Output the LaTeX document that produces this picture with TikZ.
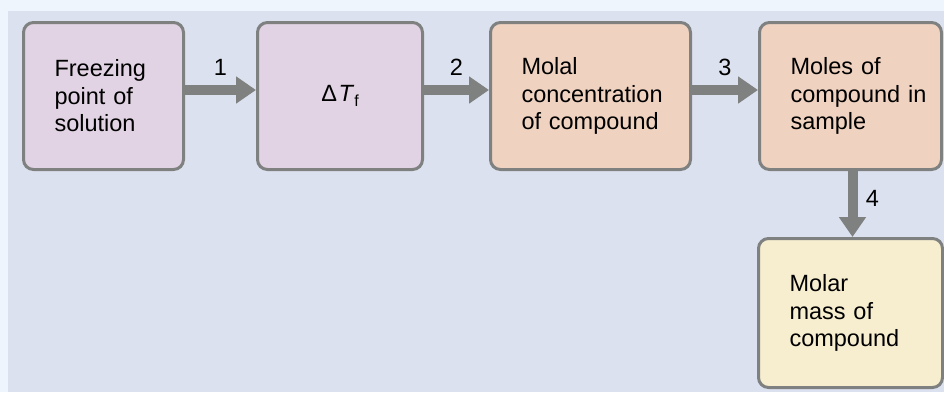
\documentclass[tikz,border=0pt]{standalone}
\usepackage{fontspec}
\setmainfont{Liberation Sans}
\usetikzlibrary{arrows.meta,positioning}
\definecolor{pagebg}{HTML}{EEF5FD}
\definecolor{panelbg}{HTML}{DBE1EE}
\definecolor{boxpurple}{HTML}{E1D3E3}
\definecolor{boxorange}{HTML}{F0D2C0}
\definecolor{boxyellow}{HTML}{F7EDCF}
\definecolor{linegray}{HTML}{7F8181}

\begin{document}
\begin{tikzpicture}[x=1pt, y=-1pt, >={Triangle[length=20pt,width=26pt]},
    stepbox/.style={draw=linegray, line width=3pt, rounded corners=10pt,
        minimum height=147pt, inner xsep=31pt, align=left,
        font=\fontsize{23.5}{27.5}\selectfont},
    flow/.style={->, draw=linegray, line width=10pt},
    num/.style={font=\fontsize{23.5}{27}\selectfont}]
    \fill[pagebg] (0,0) rectangle (944,392);
    \fill[panelbg] (8,11) rectangle (944,392);
    \useasboundingbox (0,0) rectangle (944,392);

    \node[stepbox, fill=boxpurple, text width=98pt] (freeze) at (103.5,96)
        {Freezing\\point of\\solution};
    \node[stepbox, fill=boxpurple, minimum width=165pt, align=center, right=71pt of freeze] (deltaT)
        {Δ\kern1.5pt\textit{T}\raisebox{-0.35ex}{\fontsize{16}{16}\selectfont f}};
    \node[stepbox, fill=boxorange, text width=138pt, right=65pt of deltaT] (molal)
        {Molal\\concentration\\of compound};
    \node[stepbox, fill=boxorange, text width=120pt, right=66pt of molal] (moles)
        {Moles of\\compound~in\\sample};
    \node[stepbox, fill=boxyellow, text width=122pt, minimum height=149pt, below=66pt of moles] (molar)
        {Molar\\mass of\\compound};

    \draw[flow] ([yshift=6pt]freeze.east) -- node[num, above=6pt] {1} ([yshift=6pt]deltaT.west);
    \draw[flow] ([yshift=6pt]deltaT.east) -- node[num, above=6pt] {2} ([yshift=6pt]molal.west);
    \draw[flow] ([yshift=6pt]molal.east) -- node[num, above=6pt] {3} ([yshift=6pt]moles.west);
    \draw[flow] ([xshift=2pt]moles.south) -- node[num, right=5pt, yshift=6pt] {4} ([xshift=2pt]molar.north);
\end{tikzpicture}
\end{document}
